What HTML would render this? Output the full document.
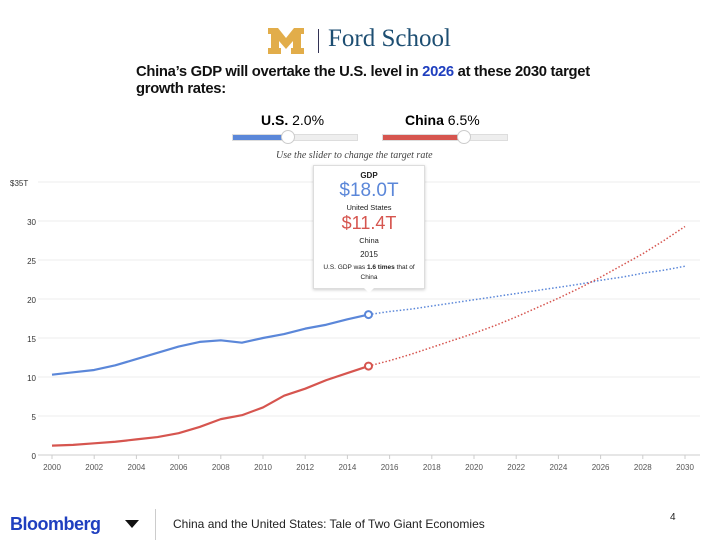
<!DOCTYPE html>
<html><head><meta charset="utf-8"><style>
body{margin:0;width:720px;height:540px;background:#fff;font-family:"Liberation Sans",sans-serif;position:relative;overflow:hidden}
.a{position:absolute}
.tt{position:absolute;left:0;width:110px;text-align:center}
</style></head><body>
<div class="a" style="left:268px;top:28px;width:36px;height:26px;">
<svg width="36" height="26"><polygon points="0,0 10,0 18,10 26,0 36,0 36,6 33,6 33,20 36,20 36,26 23,26 23,20 25,20 25,13 18,21 11,13 11,20 13,20 13,26 0,26 0,20 3,20 3,6 0,6" fill="#e2ad4a"/></svg></div>
<div class="a" style="left:318px;top:29px;width:1px;height:24px;background:#335"></div>
<div class="a" style="left:328px;top:25px;font-family:'Liberation Serif',serif;font-size:25px;color:#1d4e72">Ford School</div>
<div class="a" style="left:136px;top:64px;width:475px;font-size:14.8px;font-weight:bold;line-height:17px;color:#111;letter-spacing:-0.3px">China’s GDP will overtake the U.S. level in <span style="color:#1f3fbf">2026</span> at these 2030 target growth rates:</div>
<div class="a" style="left:261px;top:112px;font-size:14px"><b>U.S.</b> 2.0%</div>
<div class="a" style="left:405px;top:112px;font-size:14px"><b>China</b> 6.5%</div>
<div class="a" style="left:232px;top:134px;width:124px;height:5px;background:#eee;border:1px solid #ddd">
<div class="a" style="left:0;top:0;width:54px;height:5px;background:#5b87d9"></div>
<div class="a" style="left:48px;top:-5px;width:12px;height:12px;border-radius:50%;background:#fff;border:1px solid #ccc"></div></div>
<div class="a" style="left:382px;top:134px;width:124px;height:5px;background:#eee;border:1px solid #ddd">
<div class="a" style="left:0;top:0;width:80px;height:5px;background:#d6554f"></div>
<div class="a" style="left:74px;top:-5px;width:12px;height:12px;border-radius:50%;background:#fff;border:1px solid #ccc"></div></div>
<div class="a" style="left:276px;top:150px;font-family:'Liberation Serif',serif;font-style:italic;font-size:10px;color:#444">Use the slider to change the target rate</div>

<svg class="a" id="chart" style="left:0;top:0" width="720" height="490"></svg>

<div class="a" style="left:313px;top:165px;width:110px;height:122px;background:#fff;border:1px solid #ddd;box-shadow:0 1px 3px rgba(0,0,0,.2);color:#222">
<div class="tt" style="top:5px;font-size:8px;font-weight:bold">GDP</div>
<div class="tt" style="top:14px;font-size:19px;color:#5b87d9">$18.0T</div>
<div class="tt" style="top:37px;font-size:7.5px">United States</div>
<div class="tt" style="top:47px;font-size:18px;color:#d6554f">$11.4T</div>
<div class="tt" style="top:70px;font-size:7.5px">China</div>
<div class="tt" style="top:84px;font-size:8px">2015</div>
<div class="tt" style="top:97px;font-size:6.5px;line-height:10px;left:5px;width:100px">U.S. GDP was <b>1.6 times</b> that of China</div>
</div>
<div class="a" style="left:363px;top:287px;width:0;height:0;border-left:6px solid transparent;border-right:6px solid transparent;border-top:6px solid #fff"></div>

<div class="a" style="left:10px;top:514px;font-size:18px;font-weight:bold;color:#1f3fbf;letter-spacing:-0.5px">Bloomberg</div>
<div class="a" style="left:125px;top:520px;width:0;height:0;border-left:7px solid transparent;border-right:7px solid transparent;border-top:8px solid #111"></div>
<div class="a" style="left:155px;top:509px;width:1px;height:31px;background:#ccc"></div>
<div class="a" style="left:173px;top:517px;font-size:12px;color:#222">China and the United States: Tale of Two Giant Economies</div>
<div class="a" style="left:670px;top:512px;font-size:10px;color:#222">4</div>

<script>
const years=[2000,2001,2002,2003,2004,2005,2006,2007,2008,2009,2010,2011,2012,2013,2014,2015];
const usHist=[10.3,10.6,10.9,11.5,12.3,13.1,13.9,14.5,14.7,14.4,15.0,15.5,16.2,16.7,17.4,18.0];
const cnHist=[1.2,1.3,1.5,1.7,2.0,2.3,2.8,3.6,4.6,5.1,6.1,7.6,8.5,9.6,10.5,11.4];
const projYears=[2015,2016,2017,2018,2019,2020,2021,2022,2023,2024,2025,2026,2027,2028,2029,2030];
const usProj=[18.0,18.4,18.7,19.1,19.5,19.9,20.3,20.7,21.1,21.5,21.9,22.4,22.8,23.3,23.7,24.2];
const cnProj=[11.4,12.1,12.9,13.8,14.7,15.6,16.6,17.7,18.9,20.1,21.4,22.8,24.3,25.8,27.5,29.3];
const yTicks=[0,5,10,15,20,25,30,35];
const yTickLabels=["0","5","10","15","20","25","30","$35T"];
const xTicks=[2000,2002,2004,2006,2008,2010,2012,2014,2016,2018,2020,2022,2024,2026,2028,2030];

const svg=document.getElementById('chart');const NS='http://www.w3.org/2000/svg';
const X=v=>52+(v-2000)*21.1, Y=v=>455-v*7.8;
function mk(t,a){const e=document.createElementNS(NS,t);for(const k in a)e.setAttribute(k,a[k]);svg.appendChild(e);return e;}
yTicks.forEach((t,i)=>{
 const g=mk('line',{x1:38,x2:700,y1:Y(t),y2:Y(t),stroke:t===0?'#ccc':'#ececec','stroke-width':1});
 
 
 const l=mk('text',{x:t===35?10:36,y:Y(t)+4,'font-size':8,fill:'#333','text-anchor':t===35?'start':'end','font-family':'Liberation Sans'});
 l.textContent=yTickLabels[i];
 
 
});
xTicks.forEach(t=>{
 const k=mk('line',{x1:X(t),x2:X(t),y1:455,y2:459,stroke:'#ccc'});
 
 
 const l=mk('text',{x:X(t),y:470,'font-size':8,fill:'#555','text-anchor':'middle','font-family':'Liberation Sans'});
 l.textContent=t;
 
 
});
function line(xs,vs,color,dash,name){
 const p=mk('polyline',{points:xs.map((x,i)=>X(x)+','+Y(vs[i])).join(' '),fill:'none',stroke:color,'stroke-width':dash?1.5:2.2,'stroke-dasharray':dash?'1.5 2':'none','stroke-linejoin':'round'});
 
 
}
line(years,usHist,'#5b87d9',false,'us-gdp-line');
line(years,cnHist,'#d6554f',false,'china-gdp-line');
line(projYears,usProj,'#5b87d9',true,'us-projection-line');
line(projYears,cnProj,'#d6554f',true,'china-projection-line');
const c1=mk('circle',{cx:X(2015),cy:Y(usHist[usHist.length-1]),r:3.5,fill:'#fff',stroke:'#5b87d9','stroke-width':2});


const c2=mk('circle',{cx:X(2015),cy:Y(cnHist[cnHist.length-1]),r:3.5,fill:'#fff',stroke:'#d6554f','stroke-width':2});


</script>
</body></html>
